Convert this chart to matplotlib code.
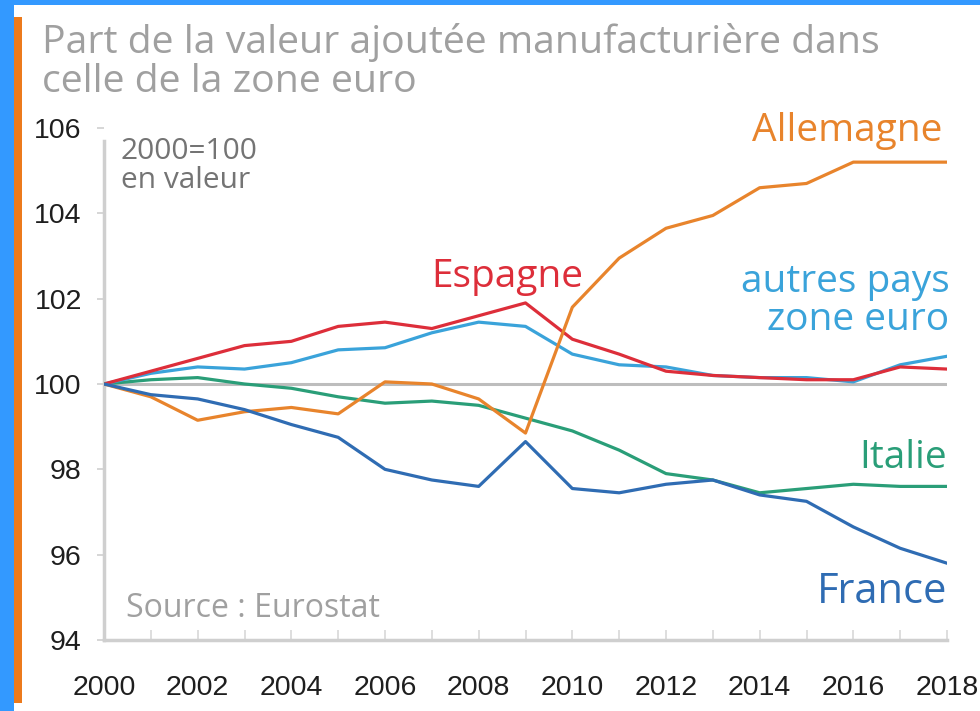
import matplotlib
matplotlib.use("Agg")
import matplotlib.pyplot as plt
from matplotlib.patches import Rectangle

# données (2000 = 100, en valeur)
annees = list(range(2000, 2019))
allemagne = [100, 99.7, 99.15, 99.35, 99.45, 99.3, 100.05, 100.0, 99.65, 98.85,
             101.8, 102.95, 103.65, 103.95, 104.6, 104.7, 105.2, 105.2, 105.2]
espagne = [100, 100.3, 100.6, 100.9, 101.0, 101.35, 101.45, 101.3, 101.6, 101.9,
           101.05, 100.7, 100.3, 100.2, 100.15, 100.1, 100.1, 100.4, 100.35]
autres = [100, 100.25, 100.4, 100.35, 100.5, 100.8, 100.85, 101.2, 101.45, 101.35,
          100.7, 100.45, 100.4, 100.2, 100.15, 100.15, 100.05, 100.45, 100.65]
italie = [100, 100.1, 100.15, 100.0, 99.9, 99.7, 99.55, 99.6, 99.5, 99.2,
          98.9, 98.45, 97.9, 97.75, 97.45, 97.55, 97.65, 97.6, 97.6]
france = [100, 99.75, 99.65, 99.4, 99.05, 98.75, 98.0, 97.75, 97.6, 98.65,
          97.55, 97.45, 97.65, 97.75, 97.4, 97.25, 96.65, 96.15, 95.8]

y_ticks = [94, 96, 98, 100, 102, 104, 106]
x_ticks = list(range(2000, 2019, 2))

c_all = '#E8842C'
c_esp = '#DD2E3A'
c_aut = '#3AA3DA'
c_ita = '#2A9E78'
c_fra = '#2F6CB3'

fig = plt.figure(figsize=(9.8, 7.11), dpi=100, facecolor='#3399FF')
W, H = 980, 711

# fond blanc + barre orange à gauche
fig.patches.append(Rectangle((14 / W, 0), 1, (H - 5) / H, transform=fig.transFigure,
                             facecolor='white', edgecolor='none', zorder=-10))
fig.patches.append(Rectangle((14 / W, 8 / H), 8 / W, (703 - 17) / H, transform=fig.transFigure,
                             facecolor='#EC7A1C', edgecolor='none', zorder=-5))

fig.text(42 / W, 1 - 53 / H, "Part de la valeur ajoutée manufacturière dans",
         fontsize=28.3, color='#a0a0a0', family='Open Sans', va='baseline', ha='left')
fig.text(42 / W, 1 - 92 / H, "celle de la zone euro",
         fontsize=28.3, color='#a0a0a0', family='Open Sans', va='baseline', ha='left')

ax = fig.add_axes([104 / W, (H - 640) / H, (947 - 104) / W, (640 - 128) / H])
ax.set_facecolor('none')
ax.set_xlim(2000, 2018)
ax.set_ylim(94, 106)

ax.axhline(100, color='#bdbdbd', lw=2.2, zorder=1)

lw = 2.3
ax.plot(annees, italie, color=c_ita, lw=lw, zorder=3)
ax.plot(annees, allemagne, color=c_all, lw=lw, zorder=4)
ax.plot(annees, autres, color=c_aut, lw=lw, zorder=3)
ax.plot(annees, espagne, color=c_esp, lw=lw, zorder=3)
ax.plot(annees, france, color=c_fra, lw=lw, zorder=5)

for s in ['top', 'right']:
    ax.spines[s].set_visible(False)
for s in ['left', 'bottom']:
    ax.spines[s].set_color('#cfcfcf')
    ax.spines[s].set_linewidth(2.5)
ax.spines['left'].set_bounds(94, 105.7)

ax.set_yticks(y_ticks)
ax.set_yticklabels([str(v) for v in y_ticks])
ax.set_xticks(x_ticks)
ax.set_xticklabels([str(v) for v in x_ticks])
ax.set_xticks(annees, minor=True)
ax.tick_params(axis='y', direction='out', length=5, width=1.2, color='#d0d0d0',
               labelsize=20.5, labelcolor='#1e1e1e', pad=11)
ax.tick_params(axis='x', which='both', direction='in', length=7, width=1.2, color='#d8d8d8',
               labelsize=20.5, labelcolor='#1e1e1e', pad=25)
for lab in ax.get_xticklabels() + ax.get_yticklabels():
    lab.set_family('Liberation Sans')

lab_kw = dict(family='Open Sans', fontsize=28)
ax.text(2017.9, 105.93, "Allemagne", color=c_all, ha='right', va='center', **lab_kw)
ax.text(2008.6, 102.5, "Espagne", color=c_esp, ha='center', va='center', **lab_kw)
ax.text(2018.05, 101.95, "autres pays\nzone euro", color=c_aut, ha='right', va='center',
        linespacing=1.0, multialignment='right', **lab_kw)
ax.text(2018.0, 98.26, "Italie", color=c_ita, ha='right', va='center', **lab_kw)
ax.text(2018.0, 95.12, "France", color=c_fra, ha='right', va='center',
        family='Open Sans', fontsize=30)

ax.text(2000.36, 105.8, "2000=100\nen valeur", color='#747474', ha='left', va='top',
        family='Open Sans', fontsize=21.5, linespacing=1.0)
ax.text(2000.47, 94.74, "Source : Eurostat", color='#a0a0a0', ha='left', va='center',
        family='Open Sans', fontsize=23)

fig.savefig("out.png", dpi=100, facecolor=fig.get_facecolor())
